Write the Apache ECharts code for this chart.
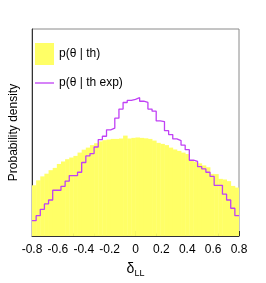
<!DOCTYPE html>
<html>
<head>
<meta charset="utf-8">
<script src="https://cdn.jsdelivr.net/npm/echarts@6/dist/echarts.min.js"></script>
<style>
html,body{margin:0;padding:0;background:#fff;}
#c{width:266px;height:283px;}
</style>
</head>
<body>
<div id="c"></div>
<script>
// Histogram binning
const xMin = -0.8;
const xMax = 0.8;
const nBins = 50;

// p(theta | th) - filled yellow histogram
const thValues = [
  0.245, 0.269, 0.288, 0.301, 0.318, 0.329, 0.348, 0.360, 0.371, 0.379,
  0.387, 0.403, 0.417, 0.427, 0.439, 0.448, 0.457, 0.463, 0.466, 0.469,
  0.469, 0.471, 0.485, 0.471, 0.474, 0.476, 0.474, 0.472, 0.469, 0.461,
  0.450, 0.445, 0.439, 0.427, 0.418, 0.411, 0.403, 0.396, 0.367, 0.358,
  0.351, 0.341, 0.332, 0.300, 0.299, 0.276, 0.273, 0.265, 0.242, 0.234
];

// p(theta | th exp) - purple step line
const expValues = [
  0.074, 0.098, 0.129, 0.155, 0.174, 0.221, 0.221, 0.240, 0.265, 0.292,
  0.292, 0.308, 0.355, 0.387, 0.398, 0.430, 0.466, 0.482, 0.513, 0.521,
  0.569, 0.613, 0.645, 0.655, 0.660, 0.668, 0.651, 0.645, 0.613, 0.603,
  0.556, 0.553, 0.509, 0.490, 0.469, 0.461, 0.439, 0.417, 0.366, 0.360,
  0.335, 0.324, 0.308, 0.288, 0.245, 0.245, 0.202, 0.174, 0.134, 0.098
];

const seriesNames = ['p(\u03b8 | th)', 'p(\u03b8 | th exp)'];

const binW = (xMax - xMin) / nBins;
const edges = [];
for (let i = 0; i <= nBins; i++) edges.push(xMin + i * binW);

const thData = thValues.map((v, i) => [edges[i], edges[i + 1], v]);
const expData = expValues.map((v, i) => [edges[i], v]);
expData.push([edges[nBins], expValues[nBins - 1]]);

const FONT = 'Liberation Sans, Arial, sans-serif';
const legendText = {fontSize: 12, color: '#000', fontFamily: FONT};

const chart = echarts.init(document.getElementById('c'), null, {renderer: 'canvas'});
chart.setOption({
  animation: false,
  backgroundColor: '#ffffff',
  textStyle: {fontFamily: FONT},
  grid: {left: 26.5, top: 29, right: 27, bottom: 43, show: true, borderColor: '#8a8a8a', borderWidth: 1, backgroundColor: 'transparent'},
  legend: [
    {
      left: 30, top: 38, itemWidth: 19, itemHeight: 22,
      textStyle: legendText,
      data: [{name: seriesNames[0], icon: 'rect'}]
    },
    {
      left: 30, top: 72, itemWidth: 19, itemHeight: 1.3,
      textStyle: legendText,
      data: [{name: seriesNames[1], icon: 'rect'}]
    }
  ],
  xAxis: {
    type: 'value', min: xMin, max: xMax, interval: 0.2,
    axisLine: {show: true, onZero: false, lineStyle: {color: '#333', width: 1}},
    axisTick: {show: true, inside: true, length: 5, lineStyle: {color: '#333'}},
    minorTick: {show: true, splitNumber: 5, length: 2.5, lineStyle: {color: '#333'}},
    splitLine: {show: false},
    axisLabel: {fontSize: 12, color: '#000', margin: 7.5,
      formatter: v => { const r = Math.round(v * 10) / 10; return r === 0 ? '0' : String(r); },
      fontFamily: FONT},
    name: '{d|\u03b4}{s|LL}', nameLocation: 'middle', nameGap: 26,
    nameTextStyle: {rich: {
      d: {fontSize: 14, color: '#000', fontFamily: FONT, verticalAlign: 'top', lineHeight: 16},
      s: {fontSize: 9, color: '#000', fontFamily: FONT, verticalAlign: 'bottom', lineHeight: 9, padding: [7, 0, 0, 0]}
    }}
  },
  yAxis: {
    type: 'value', min: 0, max: 1,
    axisLine: {show: true, onZero: false, lineStyle: {color: '#333', width: 1}},
    axisTick: {show: false}, axisLabel: {show: false}, splitLine: {show: false},
    name: 'Probability density', nameLocation: 'middle', nameGap: 12,
    nameTextStyle: {fontSize: 12, color: '#000', fontFamily: FONT}
  },
  series: [
    {
      name: seriesNames[0], type: 'custom', color: '#ffff66', clip: true,
      encode: {x: [0, 1], y: 2},
      data: thData,
      renderItem: function (params, api) {
        const p0 = api.coord([api.value(0), api.value(2)]);
        const p1 = api.coord([api.value(1), 0]);
        return {type: 'rect', shape: {x: p0[0], y: p0[1], width: p1[0] - p0[0] + 0.4, height: p1[1] - p0[1]},
          style: {fill: '#ffff66'}};
      },
      z: 1
    },
    {
      name: seriesNames[1], type: 'line', step: 'end', symbol: 'none', showSymbol: false,
      color: '#c040f5',
      lineStyle: {color: '#c040f5', width: 1.3},
      data: expData, z: 3
    }
  ]
});
</script>
</body>
</html>
